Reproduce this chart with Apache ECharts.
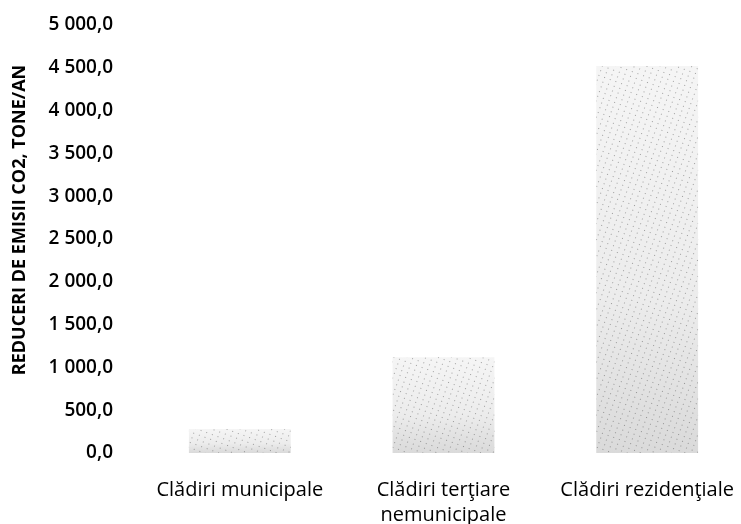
<!DOCTYPE html>
<html>
<head>
<meta charset="utf-8">
<script src="https://cdn.jsdelivr.net/npm/echarts@6/dist/echarts.min.js"></script>
<style>
  html, body { margin: 0; padding: 0; background: #fff; }
  #chart { width: 741px; height: 524px; }
</style>
</head>
<body>
<div id="chart"></div>
<script>
  /** categorii */
  const categories = ['Clădiri municipale', 'Clădiri terţiare\nnemunicipale', 'Clădiri rezidenţiale']
  /** reduceri de emisii CO2, tone/an */
  const reductions = [280, 1120, 4520]
  /** axa y */
  const yMin = 0
  const yMax = 5000
  const yStep = 500
  const axisTitle = 'REDUCERI DE EMISII CO2, TONE/AN'

  const font = '"Open Sans", "DejaVu Sans", sans-serif'

  const chart = echarts.init(document.getElementById('chart'))

  // fill cu aspect punctat (scanat)
  const stipple = {
    type: 'linear', x: 0, y: 0, x2: 0, y2: 1,
    colorStops: [
      { offset: 0, color: '#f5f5f5' },
      { offset: 0.6, color: '#ececec' },
      { offset: 1, color: '#dadada' }
    ]
  }

  chart.setOption({
    animation: false,
    aria: { enabled: true, decal: { show: true } },
    grid: { left: 138, top: 25, width: 611, bottom: 71, outerBoundsMode: 'none', containLabel: false },
    xAxis: {
      type: 'category',
      data: categories,
      axisLine: { show: false },
      axisTick: { show: false },
      axisLabel: {
        margin: 25,
        color: '#000',
        fontFamily: font,
        fontSize: 20,
        lineHeight: 25,
        interval: 0
      }
    },
    yAxis: {
      type: 'value',
      min: yMin,
      max: yMax,
      interval: yStep,
      axisLine: { show: false },
      axisTick: { show: false },
      splitLine: { show: false },
      axisLabel: {
        margin: 25,
        color: '#000',
        fontFamily: font,
        fontSize: 19,
        fontWeight: 600,
        formatter: v => {
          const s = v.toFixed(1).replace('.', ',')
          const [i, d] = s.split(',')
          return i.replace(/\B(?=(\d{3})+(?!\d))/g, ' ') + ',' + d
        }
      }
    },
    graphic: [
      {
        type: 'text',
        x: 20,
        y: 220,
        rotation: Math.PI / 2,
        style: {
          text: axisTitle,
          fill: '#000',
          font: 'bold 18px ' + font,
          align: 'center',
          verticalAlign: 'middle'
        }
      }
    ],
    series: [
      {
        type: 'bar',
        data: reductions,
        barWidth: '50%',
        itemStyle: {
          color: stipple,
          decal: {
            symbol: 'rect',
            symbolSize: 1,
            dashArrayX: [1, 5],
            dashArrayY: [1, 4],
            rotation: 0.35,
            color: 'rgba(60,60,60,0.45)'
          }
        }
      }
    ]
  })
</script>
</body>
</html>
